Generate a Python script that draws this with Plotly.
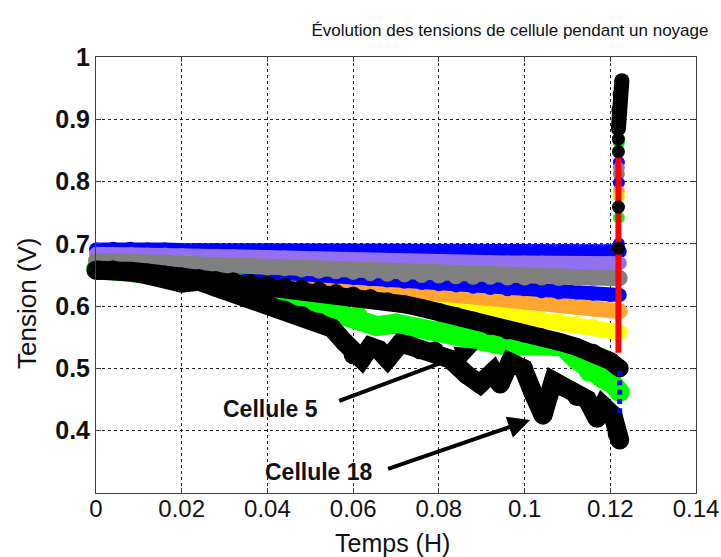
import plotly.graph_objects as go

# ---------------- data ----------------
X = [0.000, 0.004, 0.008, 0.012, 0.016, 0.020, 0.024, 0.028, 0.032, 0.036,
     0.040, 0.044, 0.048, 0.052, 0.056, 0.060, 0.064, 0.068, 0.072, 0.076,
     0.080, 0.084, 0.088, 0.092, 0.096, 0.100, 0.104, 0.108, 0.112, 0.116,
     0.120, 0.1222]

blue = [0.691, 0.692, 0.692, 0.691, 0.691, 0.690, 0.690, 0.690, 0.689, 0.689,
        0.689, 0.688, 0.688, 0.688, 0.687, 0.687, 0.688, 0.687, 0.687, 0.688,
        0.688, 0.689, 0.688, 0.688, 0.687, 0.688, 0.687, 0.687, 0.688, 0.687,
        0.687, 0.688]
purple = [0.684, 0.684, 0.684, 0.683, 0.683, 0.682, 0.681, 0.681, 0.680, 0.679,
          0.679, 0.678, 0.677, 0.676, 0.675, 0.674, 0.674, 0.673, 0.672, 0.672,
          0.672, 0.671, 0.671, 0.671, 0.670, 0.670, 0.670, 0.669, 0.669, 0.669,
          0.669, 0.669]
gray = [0.673, 0.673, 0.672, 0.671, 0.670, 0.668, 0.667, 0.666, 0.665, 0.664,
        0.662, 0.661, 0.659, 0.657, 0.656, 0.655, 0.653, 0.652, 0.651, 0.650,
        0.649, 0.648, 0.647, 0.647, 0.646, 0.646, 0.646, 0.645, 0.645, 0.645,
        0.645, 0.645]
blue2 = [0.669, 0.668, 0.667, 0.666, 0.665, 0.664, 0.662, 0.661, 0.659, 0.657,
         0.655, 0.653, 0.651, 0.649, 0.647, 0.645, 0.643, 0.641, 0.639, 0.637,
         0.635, 0.633, 0.631, 0.629, 0.627, 0.627, 0.624, 0.622, 0.622, 0.620,
         0.618, 0.618]
orange = [0.664, 0.663, 0.661, 0.659, 0.657, 0.655, 0.653, 0.651, 0.649, 0.647,
          0.645, 0.643, 0.640, 0.637, 0.635, 0.632, 0.629, 0.626, 0.624, 0.622,
          0.620, 0.618, 0.616, 0.613, 0.610, 0.607, 0.605, 0.602, 0.599, 0.596,
          0.593, 0.592]
yellow = [0.662, 0.660, 0.658, 0.656, 0.653, 0.650, 0.647, 0.644, 0.641, 0.638,
          0.635, 0.631, 0.627, 0.623, 0.619, 0.615, 0.611, 0.607, 0.603, 0.600,
          0.597, 0.594, 0.591, 0.588, 0.585, 0.582, 0.578, 0.575, 0.571, 0.567,
          0.561, 0.558]
black_upper = [0.657, 0.659, 0.657, 0.654, 0.651, 0.648, 0.645, 0.642, 0.640, 0.637,
               0.634, 0.631, 0.628, 0.625, 0.621, 0.617, 0.613, 0.608, 0.603, 0.597,
               0.591, 0.584, 0.577, 0.568, 0.561, 0.556, 0.550, 0.543, 0.535, 0.525,
               0.512, 0.500]

# Cellule 5 (green)
green_x = [0.000, 0.010, 0.020, 0.030, 0.037, 0.042, 0.046, 0.050, 0.053,
           0.057, 0.061, 0.0655, 0.070, 0.075, 0.080, 0.085, 0.089, 0.093, 0.097,
           0.101, 0.105, 0.109, 0.112, 0.115, 0.118, 0.1206, 0.1222]
green_y = [0.660, 0.655, 0.648, 0.640, 0.630, 0.620, 0.611, 0.602, 0.595,
           0.588, 0.585, 0.568, 0.572, 0.565, 0.560, 0.555, 0.548, 0.540, 0.535,
           0.538, 0.540, 0.535, 0.515, 0.495, 0.485, 0.475, 0.462]

# Cellule 18 (black, lower)
c18_x = [0.000, 0.004, 0.008, 0.012, 0.016, 0.020, 0.024, 0.028, 0.032, 0.036,
         0.040, 0.044, 0.048, 0.052, 0.055, 0.058, 0.060, 0.062, 0.064, 0.066,
         0.068, 0.071, 0.073, 0.0756, 0.079, 0.0826, 0.0865, 0.0896, 0.0927, 0.0943,
         0.0966, 0.0997, 0.102, 0.1043, 0.1067, 0.109, 0.1122, 0.1146, 0.1169, 0.1183,
         0.1206, 0.1216, 0.1222]
c18_y = [0.658, 0.658, 0.655, 0.650, 0.645, 0.637, 0.640, 0.630, 0.622, 0.616,
         0.604, 0.594, 0.585, 0.574, 0.565, 0.542, 0.522, 0.515, 0.535, 0.530,
         0.515, 0.540, 0.537, 0.530, 0.528, 0.515, 0.490, 0.475, 0.495, 0.475,
         0.510, 0.500, 0.460, 0.425, 0.480, 0.470, 0.455, 0.450, 0.420, 0.440,
         0.425, 0.395, 0.385]

# vertical jump at the end of the test
red_x = [0.1219, 0.1219]
red_y = [0.525, 0.890]
spike_x = [0.1219, 0.1220, 0.1223, 0.1227]
spike_y = [0.885, 0.915, 0.940, 0.962]
col_dots_y = [0.862, 0.831, 0.822, 0.812, 0.798, 0.785, 0.776, 0.742, 0.700]
col_dots_c = ["#00ff00", "#0000ff", "#9370f0", "#808080", "#0000ff",
              "#ffa530", "#ffd000", "#00ff00", "#0000ff"]
black_dots_y = [0.868, 0.848, 0.759, 0.693]
blue_sq_y = [0.492, 0.477, 0.462, 0.447, 0.432]

x_ticks = [0, 0.02, 0.04, 0.06, 0.08, 0.10, 0.12, 0.14]
x_ticktext = ["0", "0.02", "0.04", "0.06", "0.08", "0.1", "0.12", "0.14"]
y_ticks = [0.4, 0.5, 0.6, 0.7, 0.8, 0.9, 1.0]
y_ticktext = ["0.4", "0.5", "0.6", "0.7", "0.8", "0.9", "1"]

# ---------------- figure ----------------
fig = go.Figure()


def band(xs, ys, color, w, name):
    fig.add_trace(go.Scatter(
        x=xs, y=ys, mode="lines+markers", name=name,
        line=dict(color=color, width=w),
        marker=dict(color=color, size=w, line=dict(width=0)),
        cliponaxis=False, hoverinfo="skip"))


band(X, yellow, "#ffff00", 16, "yellow")
band(X, orange, "#ffa530", 16, "orange")
band(X, blue2, "#0000ff", 14, "blue2")
band(green_x, green_y, "#00ff00", 20, "Cellule 5")
band(X, blue, "#0000ff", 14, "blue")
band(X, purple, "#9370f0", 14, "purple")
band(X, gray, "#808080", 16, "gray")
band(c18_x, c18_y, "#000000", 19, "Cellule 18")
band(X, black_upper, "#000000", 18, "black")

fig.add_trace(go.Scatter(
    x=[0.1220] * len(col_dots_y), y=col_dots_y, mode="markers",
    marker=dict(color=col_dots_c, size=12, line=dict(width=0)),
    cliponaxis=False, hoverinfo="skip"))
fig.add_trace(go.Scatter(
    x=red_x, y=red_y, mode="lines", line=dict(color="#ff0000", width=6),
    hoverinfo="skip"))
band(spike_x, spike_y, "#000000", 15, "spike")
fig.add_trace(go.Scatter(
    x=[0.1219] * len(black_dots_y), y=black_dots_y, mode="markers",
    marker=dict(color="#000000", size=13, line=dict(width=0)),
    cliponaxis=False, hoverinfo="skip"))
fig.add_trace(go.Scatter(
    x=[0.1222] * len(blue_sq_y), y=blue_sq_y, mode="markers",
    marker=dict(color="#0000ff", size=5, symbol="square", line=dict(width=0)),
    cliponaxis=False, hoverinfo="skip"))

axis_common = dict(
    showline=True, linecolor="#404040", linewidth=1, mirror="ticks",
    ticks="inside", ticklen=5, tickcolor="#404040",
    showgrid=True, gridcolor="#222222", gridwidth=1, griddash="3px,3px",
    zeroline=False, automargin=False,
)

fig.update_layout(
    width=721, height=557,
    margin=dict(l=96, r=25, t=57, b=64, autoexpand=False),
    paper_bgcolor="white", plot_bgcolor="white",
    showlegend=False,
    title=dict(text="Évolution des tensions de cellule pendant un noyage",
               x=510 / 721, xanchor="center", y=1 - 30 / 557, yanchor="middle",
               font=dict(family="Liberation Sans, Arial", size=17, color="#111")),
    xaxis=dict(range=[0, 0.14], tickvals=x_ticks, ticktext=x_ticktext,
               tickfont=dict(family="Liberation Sans, Arial", size=24, color="#111"),
               ticklabelstandoff=-6,
               **axis_common),
    yaxis=dict(range=[0.3, 1.0], tickvals=y_ticks, ticktext=y_ticktext,
               tickfont=dict(family="Liberation Sans, Arial", size=25, color="#111",
                             weight="bold"),
               **axis_common),
)

annos = [
    dict(text="Temps (H)", x=(392 - 96) / 600, y=(493 - 543) / 436,
         xref="paper", yref="paper",
         showarrow=False, xanchor="center", yanchor="middle",
         font=dict(family="Liberation Sans, Arial", size=25, color="#111")),
    dict(text="Tension (V)", x=(27 - 96) / 600, y=(493 - 303) / 436,
         xref="paper", yref="paper",
         showarrow=False, xanchor="center", yanchor="middle", textangle=-90,
         font=dict(family="Liberation Sans, Arial", size=26, color="#111")),
    dict(text="<b>Cellule 5</b>", x=0.0406, y=0.435, xref="x", yref="y",
         showarrow=False, xanchor="center", yanchor="middle",
         font=dict(family="Liberation Sans, Arial", size=23, color="#111")),
    dict(text="<b>Cellule 18</b>", x=0.052, y=0.333, xref="x", yref="y",
         showarrow=False, xanchor="center", yanchor="middle",
         font=dict(family="Liberation Sans, Arial", size=23, color="#111")),
    dict(text="", x=0.0891, y=0.531, ax=0.0564, ay=0.447, xref="x", yref="y",
         axref="x", ayref="y", showarrow=True, arrowhead=2, arrowsize=1.1,
         arrowwidth=4, arrowcolor="#000", standoff=0, startstandoff=0),
    dict(text="", x=0.1013, y=0.4173, ax=0.0678, ay=0.338, xref="x", yref="y",
         axref="x", ayref="y", showarrow=True, arrowhead=2, arrowsize=1.1,
         arrowwidth=4, arrowcolor="#000", standoff=0, startstandoff=0),
]
fig.update_layout(annotations=annos)

fig.write_html("out.html")
